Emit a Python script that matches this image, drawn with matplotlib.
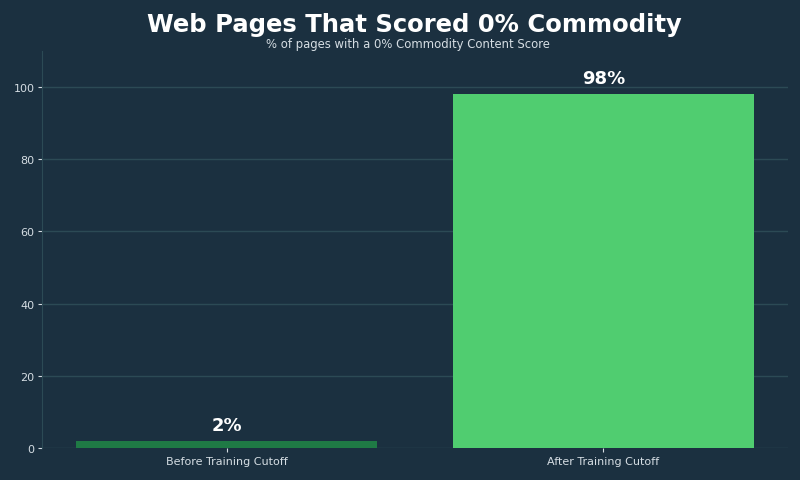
import matplotlib
matplotlib.use('Agg')
import matplotlib.pyplot as plt

# ── data ──────────────────────────────────────────────────────────────────
categories = ['Before Training Cutoff', 'After Training Cutoff']
values = [2, 98]
value_labels = ['2%', '98%']

BG = '#1b3040'
GRID = '#2c4a55'
TEXT = '#d5dde3'
bar_colors = ['#1f7a45', '#50cd70']

fig = plt.figure(figsize=(8, 4.81), dpi=100)
fig.patch.set_facecolor(BG)
ax = fig.add_axes([0.0525, 0.0666, 0.9325, 0.8254])
ax.set_facecolor(BG)

bars = ax.bar(categories, values, width=0.8, color=bar_colors, zorder=3)
for b, lab in zip(bars, value_labels):
    ax.text(b.get_x() + b.get_width() / 2, b.get_height() + 2.0, lab,
            ha='center', va='bottom', fontsize=13, fontweight='bold',
            color='white', zorder=4)

ax.set_ylim(0, 110)
ax.set_yticks([0, 20, 40, 60, 80, 100])
ax.grid(axis='y', color=GRID, linewidth=1, zorder=0)
ax.set_axisbelow(True)

for s in ['top', 'right', 'bottom']:
    ax.spines[s].set_visible(False)
ax.spines['left'].set_color(GRID)
ax.tick_params(colors=TEXT, labelsize=8, length=3, pad=2.5)

fig.text(0.518, 0.948, 'Web Pages That Scored 0% Commodity', ha='center',
         va='center', fontsize=17.5, fontweight='bold', color='white')
fig.text(0.51, 0.907, '% of pages with a 0% Commodity Content Score',
         ha='center', va='center', fontsize=8.4, color=TEXT)

fig.savefig('out.png', dpi=100, facecolor=BG)
